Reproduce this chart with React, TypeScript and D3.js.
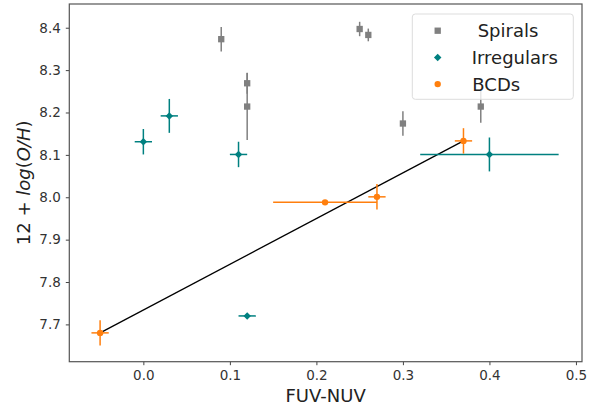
import React, { useEffect, useRef } from "react";
import * as d3 from "d3";

// Spirals
const spiralX = [0.09, 0.12, 0.12, 0.25, 0.26, 0.3, 0.39];
const spiralY = [8.373, 8.269, 8.214, 8.397, 8.383, 8.174, 8.214];
const spiralYErr = [0.029, 0.025, 0.079, 0.017, 0.015, 0.029, 0.038];

// Irregulars
const irrX = [0.0, 0.03, 0.11, 0.12, 0.4];
const irrY = [8.131, 8.192, 8.101, 7.72, 8.101];
const irrXErr = [0.01, 0.01, 0.01, 0.01, 0.08];
const irrYErr = [0.03, 0.04, 0.03, 0.004, 0.04];

// BCDs
const bcdX = [-0.05, 0.21, 0.27, 0.37];
const bcdY = [7.68, 7.988, 8.001, 8.133];
const bcdXErr = [0.01, 0.06, 0.01, 0.01];
const bcdYErr = [0.03, 0.0, 0.03, 0.03];

// fit line
const fitX = [-0.05, 0.37];
const fitY = [7.68, 8.133];

const xTicks = [0.0, 0.1, 0.2, 0.3, 0.4, 0.5];
const yTicks = [7.7, 7.8, 7.9, 8.0, 8.1, 8.2, 8.3, 8.4];

const legendItems = ["Spirals", "Irregulars", "BCDs"];

const GREY = "#808080";
const TEAL = "#008080";
const ORANGE = "#ff7f0e";
const FONT = "DejaVu Sans, sans-serif";

export default function App() {
  const ref = useRef<SVGSVGElement>(null);

  useEffect(() => {
    const svg = d3.select(ref.current);
    svg.selectAll("*").remove();

    const left = 69.3,
      right = 582,
      top = 4,
      bottom = 361.7;

    const x = d3.scaleLinear().domain([-0.0856, 0.507]).range([left, right]);
    const y = d3.scaleLinear().domain([7.612, 8.456]).range([bottom, top]);

    const g = svg.append("g");

    // fit line (drawn below markers)
    const line = d3
      .line<number>()
      .x((d, i) => x(fitX[i]))
      .y((d, i) => y(fitY[i]));
    g.append("path")
      .datum(fitX)
      .attr("d", line)
      .attr("fill", "none")
      .attr("stroke", "#000")
      .attr("stroke-width", 1.3);

    // error bars helper
    function errBars(
      xs: number[],
      ys: number[],
      xe: number[] | null,
      ye: number[],
      color: string
    ) {
      const eg = g.append("g").attr("stroke", color).attr("stroke-width", 1.5);
      xs.forEach((xv, i) => {
        if (ye[i] > 0) {
          eg.append("line")
            .attr("x1", x(xv))
            .attr("x2", x(xv))
            .attr("y1", y(ys[i] - ye[i]))
            .attr("y2", y(ys[i] + ye[i]));
        }
        if (xe && xe[i] > 0) {
          eg.append("line")
            .attr("x1", x(xv - xe[i]))
            .attr("x2", x(xv + xe[i]))
            .attr("y1", y(ys[i]))
            .attr("y2", y(ys[i]));
        }
      });
    }

    errBars(spiralX, spiralY, null, spiralYErr, GREY);
    errBars(irrX, irrY, irrXErr, irrYErr, TEAL);
    errBars(bcdX, bcdY, bcdXErr, bcdYErr, ORANGE);

    const square = d3.symbol(d3.symbolSquare, 40);
    // matplotlib "D" marker = square turned 45deg
    const diamond = d3.symbol(d3.symbolSquare, 28);
    const circle = d3.symbol(d3.symbolCircle, 32);

    g.selectAll(".sp")
      .data(spiralX)
      .join("path")
      .attr("class", "sp")
      .attr("d", square)
      .attr("transform", (d, i) => `translate(${x(d)},${y(spiralY[i])})`)
      .attr("fill", GREY);

    g.selectAll(".irr")
      .data(irrX)
      .join("path")
      .attr("class", "irr")
      .attr("d", diamond)
      .attr(
        "transform",
        (d, i) => `translate(${x(d)},${y(irrY[i])}) rotate(45)`
      )
      .attr("fill", TEAL);

    g.selectAll(".bcd")
      .data(bcdX)
      .join("path")
      .attr("class", "bcd")
      .attr("d", circle)
      .attr("transform", (d, i) => `translate(${x(d)},${y(bcdY[i])})`)
      .attr("fill", ORANGE);

    // axes
    const xAxis = svg
      .append("g")
      .attr("transform", `translate(0,${bottom})`)
      .call(
        d3
          .axisBottom(x)
          .tickValues(xTicks)
          .tickFormat(d3.format(".1f"))
          .tickSizeOuter(0)
          .tickSize(3.5)
          .tickPadding(5)
      );
    const yAxis = svg
      .append("g")
      .attr("transform", `translate(${left},0)`)
      .call(
        d3
          .axisLeft(y)
          .tickValues(yTicks)
          .tickFormat(d3.format(".1f"))
          .tickSizeOuter(0)
          .tickSize(3.5)
          .tickPadding(5)
      );
    [xAxis, yAxis].forEach((a) => {
      a.select(".domain").remove();
      a.selectAll("line").attr("stroke", "#444");
      a.selectAll("text")
        .attr("font-family", FONT)
        .attr("font-size", 13.5)
        .attr("fill", "#333");
    });

    // frame
    svg.append("rect")
      .attr("x", left)
      .attr("y", top)
      .attr("width", right - left)
      .attr("height", bottom - top)
      .attr("fill", "none")
      .attr("stroke", "#555")
      .attr("stroke-width", 1.2);

    // axis labels
    svg.append("text")
      .attr("x", (left + right) / 2)
      .attr("y", 402)
      .attr("text-anchor", "middle")
      .attr("font-family", FONT)
      .attr("font-size", 18)
      .attr("fill", "#222")
      .text("FUV-NUV");

    const yl = svg
      .append("text")
      .attr("transform", `translate(30,${(top + bottom) / 2}) rotate(-90)`)
      .attr("text-anchor", "middle")
      .attr("font-family", FONT)
      .attr("font-size", 18)
      .attr("fill", "#222");
    yl.append("tspan").text("12 + ");
    yl.append("tspan").attr("font-style", "italic").text("log");
    yl.append("tspan").text("(");
    yl.append("tspan").attr("font-style", "italic").text("O");
    yl.append("tspan").attr("font-style", "italic").text("/");
    yl.append("tspan").attr("font-style", "italic").text("H");
    yl.append("tspan").text(")");

    // legend
    const lg = svg.append("g");
    lg.append("rect")
      .attr("x", 412.3)
      .attr("y", 14)
      .attr("width", 161)
      .attr("height", 85.3)
      .attr("rx", 3)
      .attr("fill", "#fff")
      .attr("fill-opacity", 0.8)
      .attr("stroke", "#ddd");
    const legShapes = [square, diamond, circle];
    const legRot = [0, 45, 0];
    const legColors = [GREY, TEAL, ORANGE];
    const legTextX = [477.7, 471.7, 472.3];
    legendItems.forEach((name, i) => {
      const cy = 30.7 + i * 26.7;
      lg.append("path")
        .attr("d", legShapes[i])
        .attr("transform", `translate(437.7,${cy}) rotate(${legRot[i]})`)
        .attr("fill", legColors[i]);
      lg.append("text")
        .attr("x", legTextX[i])
        .attr("y", cy + 6.5)
        .attr("font-family", FONT)
        .attr("font-size", 18)
        .attr("fill", "#222")
        .text(name);
    });
  }, []);

  return (
    <svg
      ref={ref}
      width={600}
      height={407}
      style={{ position: "absolute", left: 0, top: 0, background: "#fff" }}
    />
  );
}
